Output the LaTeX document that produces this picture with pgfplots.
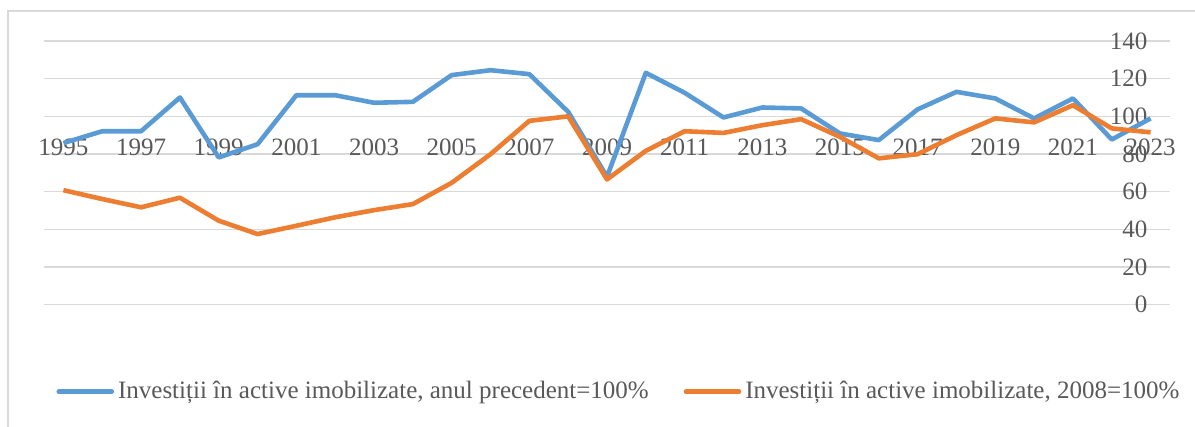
\documentclass[border=0pt]{standalone}
\usepackage{fontspec}
\setmainfont{Liberation Serif}
\usepackage{pgfplots}
\pgfplotsset{compat=1.18}
\usetikzlibrary{calc}

\definecolor{xlblue}{HTML}{5B9BD5}
\definecolor{xlorange}{HTML}{ED7D31}
\definecolor{gridgray}{HTML}{D9D9D9}
\definecolor{txtgray}{HTML}{595959}

\begin{document}
\begin{tikzpicture}
\begin{axis}[
    scale only axis,
    width=563pt, height=131.85pt,
    xmin=1994.5, xmax=2023.5,
    ymin=0, ymax=140,
    xtick={1995,1997,...,2023},
    ytick={0,20,...,140},
    ymajorgrids,
    grid style={gridgray, line width=0.75pt},
    major tick length=0pt,
    axis line style={draw=none},
    /pgf/number format/assume math mode=true,
    /pgf/number format/1000 sep={},
    tick label style={font=\fontsize{12.5}{14}\selectfont, text=txtgray},
    xticklabel style={yshift=86.6pt},
    yticklabel pos=right,
    yticklabel style={anchor=east, xshift=-7.8pt},
    legend columns=2,
    legend style={at={(0.5115,-0.33)}, anchor=center, draw=none,
        font=\fontsize{12.5}{14}\selectfont, text=txtgray,
        /tikz/every even column/.append style={column sep=15.5pt},
        nodes={inner xsep=2pt}},
    legend image code/.code={\draw[#1, line cap=round] (0pt,0pt) -- (26.5pt,0pt);},
    every axis plot/.append style={line width=2.3pt, line join=round},
]
\addplot[xlblue] coordinates {
 (1995,85.8) (1996,92.1) (1997,92.1) (1998,110.0) (1999,78.2) (2000,85.2)
 (2001,111.2) (2002,111.2) (2003,107.2) (2004,107.7) (2005,121.9) (2006,124.5)
 (2007,122.4) (2008,102.4) (2009,67.9) (2010,123.1) (2011,112.5) (2012,99.4)
 (2013,104.7) (2014,104.2) (2015,90.9) (2016,87.4) (2017,103.7) (2018,113.0)
 (2019,109.5) (2020,98.9) (2021,109.5) (2022,87.7) (2023,98.9)
};
\addlegendentry{Investiții în active imobilizate, anul precedent=100\%}
\addplot[xlorange] coordinates {
 (1995,60.8) (1996,56.1) (1997,51.7) (1998,56.8) (1999,44.6) (2000,37.5)
 (2001,41.9) (2002,46.4) (2003,50.2) (2004,53.4) (2005,64.7) (2006,79.9)
 (2007,97.6) (2008,100.0) (2009,66.5) (2010,81.7) (2011,92.1) (2012,91.2)
 (2013,95.3) (2014,98.5) (2015,89.1) (2016,77.7) (2017,79.9) (2018,90.0)
 (2019,98.9) (2020,96.8) (2021,105.9) (2022,93.6) (2023,91.5)
};
\addlegendentry{Investiții în active imobilizate, 2008=100\%}
\coordinate (O) at (rel axis cs:0,0);
\end{axis}
% chart frame: only the top and left edges show in the crop
\draw[gridgray, line width=0.6pt] ($(O)+(-18pt,-61.15pt)$) -- ($(O)+(-18pt,146.85pt)$) -- ($(O)+(575.5pt,146.85pt)$);
\pgfresetboundingbox
\useasboundingbox ($(O)+(-22pt,-61.15pt)$) rectangle ($(O)+(575.5pt,152.35pt)$);
\end{tikzpicture}
\end{document}
